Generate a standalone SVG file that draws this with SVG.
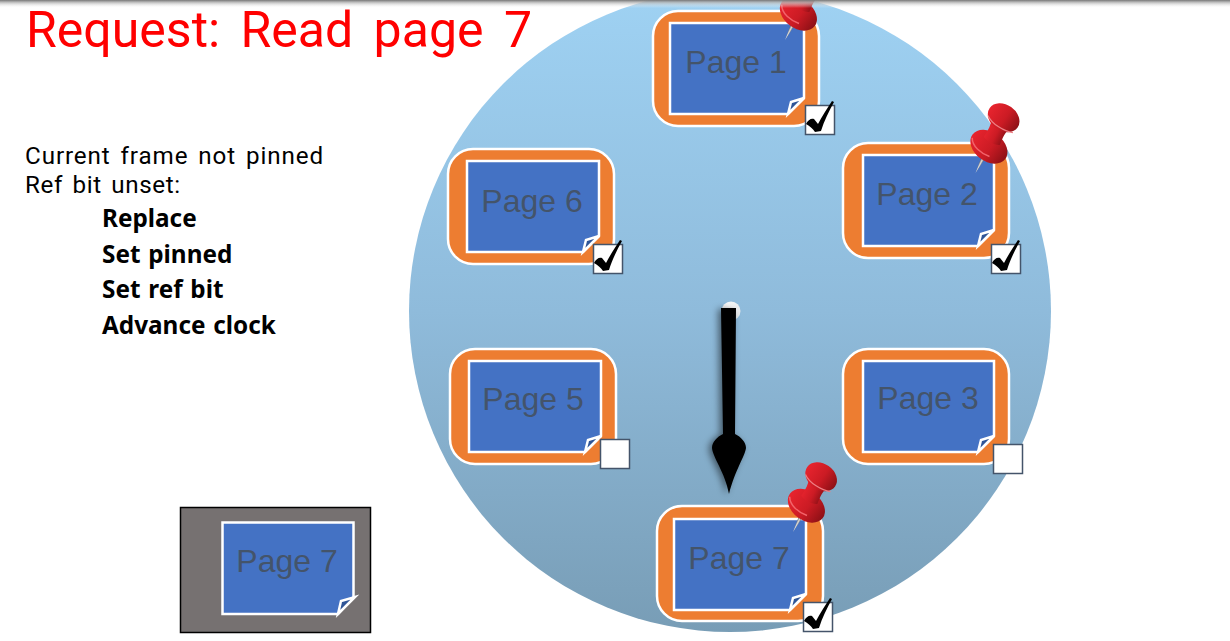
<svg xmlns="http://www.w3.org/2000/svg" width="1230" height="641" viewBox="0 0 1230 641">
<style>
.frame{fill:#ed7d31;stroke:#fff;stroke-width:2.5}
.sheet{fill:#4472c4;stroke:#fff;stroke-width:2.5;stroke-linejoin:miter}
.fold{fill:#2f5597;stroke:#fff;stroke-width:2.5;stroke-linejoin:miter}
.pt{font-family:"Liberation Sans",Arial,sans-serif;font-size:32px;fill:#44546a;text-anchor:middle}
.box{fill:#fff;stroke:#44546a;stroke-width:1.5}
.tx{font-family:"Noto Sans","Open Sans",sans-serif;font-size:24.3px;fill:#000;word-spacing:1.5px}
.r{font-family:Roboto,"Noto Sans",sans-serif;font-size:24.2px;fill:#000;word-spacing:3px}
.b{font-weight:700}
.title{font-family:Roboto,"Noto Sans",sans-serif;font-size:50px;fill:#f00;word-spacing:8px}
</style>
<defs>
<linearGradient id="disc" x1="0" y1="0" x2="0" y2="1"><stop offset="0" stop-color="#9fd2f3"/><stop offset=".5" stop-color="#8fbbdb"/><stop offset="1" stop-color="#789db6"/></linearGradient>
<linearGradient id="top" x1="0" y1="0" x2="0" y2="1"><stop offset="0" stop-color="#777"/><stop offset=".35" stop-color="#bbb" stop-opacity=".8"/><stop offset="1" stop-color="#fff" stop-opacity="0"/></linearGradient>
<linearGradient id="red" x1="0" y1="0" x2="1" y2="0"><stop offset="0" stop-color="#e8242e"/><stop offset=".55" stop-color="#cb1b24"/><stop offset="1" stop-color="#8d1016"/></linearGradient>
<linearGradient id="steel" x1="0" y1="0" x2="1" y2="0"><stop offset="0" stop-color="#555"/><stop offset=".5" stop-color="#ddd"/><stop offset="1" stop-color="#666"/></linearGradient>
<radialGradient id="knob" cx=".4" cy=".3" r=".8"><stop offset="0" stop-color="#fff"/><stop offset="1" stop-color="#dfe4e8"/></radialGradient>
<filter id="sh" x="-100%" y="-10%" width="300%" height="120%"><feGaussianBlur in="SourceAlpha" stdDeviation="3.5"/><feOffset dx="-3" dy="1"/><feComponentTransfer><feFuncA type="linear" slope=".5"/></feComponentTransfer><feMerge><feMergeNode/><feMergeNode in="SourceGraphic"/></feMerge></filter>
<g id="pin">
<path d="M-2,-18 L0,0 L2,-18 Z" fill="url(#steel)"/>
<ellipse cx="0" cy="-29.500" rx="20.500" ry="14.500" fill="url(#red)" transform="rotate(10 0 -29.500)"/>
<path d="M-19,-30 C-15,-22 -4,-20 5,-21" fill="none" stroke="#f2636a" stroke-width="1.5"/>
<path d="M-9,-36 C-8,-44 -8,-50 -10.500,-57 L10.500,-57 C8,-50 8,-44 9,-36 C4,-33 -4,-33 -9,-36 Z" fill="url(#red)"/>
<ellipse cx="0" cy="-62" rx="17" ry="13" fill="url(#red)" transform="rotate(8 0 -62)"/>
<path d="M-15,-57 C-8,-51 7,-50 15,-53" fill="none" stroke="#ee7f84" stroke-width="1.2"/>
</g>
<path id="tick" d="M1,19 C3,15 6,13 9,14 L13,19 C17,11 22,4 27,-4 L29,-3 C24,6 19,16 16,26 L10,27 C8,24 5,21 1,19 Z" fill="#000"/>
</defs>
<rect width="1230" height="641" fill="#fff"/>
<circle id="clock-face" cx="730" cy="311" r="321" fill="url(#disc)"/>

<g id="request-text">
<text class="title" x="26" y="46.500">Request: Read page 7</text>
<text class="r" x="25" y="164" letter-spacing=".9">Current frame not pinned</text>
<text class="r" x="25" y="192.500" letter-spacing=".6">Ref bit unset:</text>
<text class="tx b" x="102" y="227">Replace</text>
<text class="tx b" x="102" y="263">Set pinned</text>
<text class="tx b" x="102" y="298">Set ref bit</text>
<text class="tx b" x="102" y="334">Advance clock</text>
</g>

<g id="page1">
<rect class="frame" x="653" y="11" width="166" height="115" rx="25"/>
<path class="sheet" d="M670,23 H804 V98 L788,114 H670 Z"/>
<path class="fold" d="M788,114 L791,102 L804,98 Z"/>
<text class="pt" x="736" y="73">Page 1</text>
<use href="#pin" transform="translate(785,40) rotate(27)"/>
<rect class="box" x="805.500" y="105.500" width="29" height="29"/>
<use href="#tick" x="805" y="105"/>
</g>
<g id="page2">
<rect class="frame" x="843" y="143" width="166" height="115" rx="25"/>
<path class="sheet" d="M863,155 H994 V230 L978,246 H863 Z"/>
<path class="fold" d="M978,246 L981,234 L994,230 Z"/>
<text class="pt" x="927" y="205">Page 2</text>
<use href="#pin" transform="translate(975.500,173) rotate(27)"/>
<rect class="box" x="991.500" y="244.500" width="29" height="29"/>
<use href="#tick" x="991" y="244"/>
</g>
<g id="page3">
<rect class="frame" x="843" y="349" width="166" height="115" rx="25"/>
<path class="sheet" d="M863,361 H994 V436 L978,452 H863 Z"/>
<path class="fold" d="M978,452 L981,440 L994,436 Z"/>
<text class="pt" x="928" y="409">Page 3</text>
<rect class="box" x="993.500" y="444.500" width="29" height="29"/>
</g>
<g id="page5">
<rect class="frame" x="450" y="349" width="166" height="115" rx="25"/>
<path class="sheet" d="M469,361 H601 V436 L585,452 H469 Z"/>
<path class="fold" d="M585,452 L588,440 L601,436 Z"/>
<text class="pt" x="533" y="410">Page 5</text>
<rect class="box" x="600.500" y="439.500" width="29" height="29"/>
</g>
<g id="page6">
<rect class="frame" x="448" y="149" width="166" height="115" rx="25"/>
<path class="sheet" d="M467,161 H599 V236 L583,252 H467 Z"/>
<path class="fold" d="M583,252 L586,240 L599,236 Z"/>
<text class="pt" x="532" y="212">Page 6</text>
<rect class="box" x="593.500" y="244.500" width="29" height="29"/>
<use href="#tick" x="593" y="244"/>
</g>
<g id="page7">
<rect class="frame" x="657" y="506" width="166" height="115" rx="25"/>
<path class="sheet" d="M674,519 H806 V594 L790,610 H674 Z"/>
<path class="fold" d="M790,610 L793,598 L806,594 Z"/>
<text class="pt" x="739" y="569">Page 7</text>
<use href="#pin" transform="translate(793,532) rotate(27)"/>
<rect class="box" x="803.500" y="602.500" width="29" height="29"/>
<use href="#tick" x="803" y="602"/>
</g>

<g id="clock-hand">
<circle cx="731" cy="311" r="9.500" fill="url(#knob)"/>
<path filter="url(#sh)" d="M721,308 H736 L735,434 C741,437 746,442 746,448 C745,456 735,470 729,494 C725,472 713,458 712,448 C712,442 717,437 723,434 Z" fill="#000"/>
</g>

<g id="buffer-page">
<rect x="180.500" y="507.500" width="190" height="125" fill="#767171" stroke="#000" stroke-width="1.500"/>
<path class="sheet" d="M222.500,522.500 H353.500 V597 L338,614 H222.500 Z"/>
<path class="fold" d="M338,614 L341,601 L355,597 Z"/>
<text class="pt" x="287" y="572">Page 7</text>
</g>

<rect id="top-edge" width="1230" height="8" fill="url(#top)"/>
</svg>
